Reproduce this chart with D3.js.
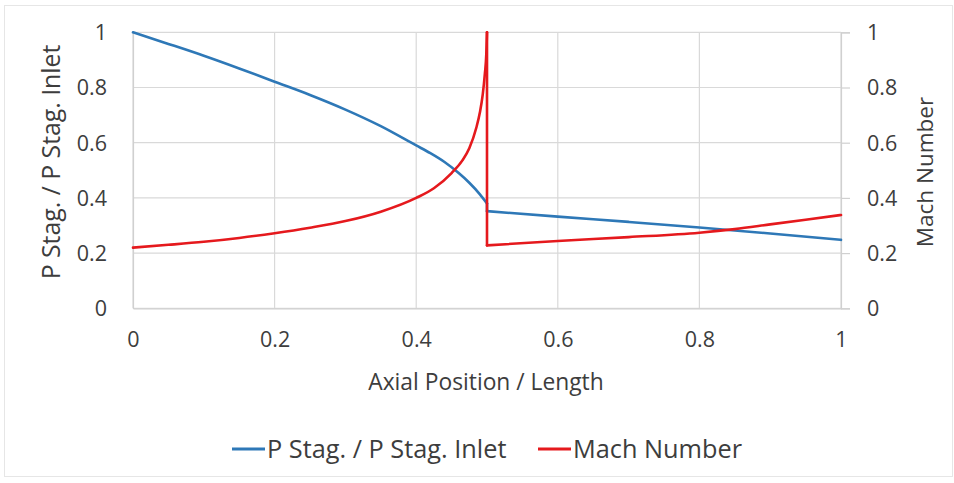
<!DOCTYPE html>
<html>
<head>
<meta charset="utf-8">
<script src="https://cdn.jsdelivr.net/npm/d3@7"></script>
<style>
  html, body { margin: 0; padding: 0; background: #fff; }
  svg { display: block; }
  text { font-family: "Open Sans", sans-serif; fill: #3d3d3d; }
</style>
</head>
<body>
<svg id="chart" width="954" height="483"></svg>
<script>
// ---- data ----
const xTicks = [0, 0.2, 0.4, 0.6, 0.8, 1];
const yTicks = [0, 0.2, 0.4, 0.6, 0.8, 1];

// upstream of the shock (x <= 0.5) and downstream (x >= 0.5)
const pressureXPre   = [0, 0.05, 0.1, 0.15, 0.2, 0.25, 0.3, 0.35, 0.4, 0.42, 0.44, 0.46, 0.475, 0.49, 0.5];
const pressureValPre = [1, 0.958, 0.915, 0.869, 0.821, 0.773, 0.72, 0.66, 0.59, 0.562, 0.53, 0.49, 0.455, 0.413, 0.38];
const pressureXPost   = [0.5, 0.6, 0.7, 0.8, 0.9, 1];
const pressureValPost = [0.352, 0.332, 0.313, 0.293, 0.271, 0.248];

const machXPre   = [0, 0.05, 0.1, 0.15, 0.2, 0.25, 0.3, 0.35, 0.4, 0.425, 0.45, 0.465, 0.475, 0.485, 0.49, 0.494, 0.497, 0.499, 0.5];
const machValPre = [0.22, 0.23, 0.241, 0.255, 0.272, 0.292, 0.316, 0.35, 0.4, 0.435, 0.49, 0.535, 0.58, 0.655, 0.71, 0.775, 0.85, 0.92, 1];
const machXPost   = [0.5, 0.6, 0.7, 0.8, 0.85, 0.9, 0.95, 1];
const machValPost = [0.228, 0.244, 0.258, 0.274, 0.287, 0.304, 0.321, 0.338];

const seriesNames = ["P Stag. / P Stag. Inlet", "Mach Number"];
const seriesColors = ["#2e78b7", "#e5191d"];

// ---- layout ----
const svg = d3.select("#chart");
const pLeft = 133, pRight = 841, pTop = 32.3, pBottom = 308.3;
const inkColor = "#3d3d3d";

svg.append("rect").attr("x", 4.5).attr("y", 5.5).attr("width", 948).attr("height", 471)
  .attr("fill", "#fff").attr("stroke", "#e6e6e6").attr("stroke-width", 1);

const x = d3.scaleLinear().domain([0, 1]).range([pLeft, pRight]);
const yL = d3.scaleLinear().domain([0, 1]).range([pBottom, pTop]);
const yR = d3.scaleLinear().domain([0, 1]).range([pBottom, pTop]);

const grid = svg.append("g");
grid.selectAll(".hg").data(yTicks).join("line")
  .attr("x1", pLeft).attr("x2", pRight)
  .attr("y1", d => yL(d)).attr("y2", d => yL(d))
  .attr("stroke", "#d9d9d9").attr("stroke-width", 1.2);
grid.selectAll(".vg").data(xTicks).join("line")
  .attr("x1", d => x(d)).attr("x2", d => x(d))
  .attr("y1", pTop).attr("y2", pBottom)
  .attr("stroke", "#d9d9d9").attr("stroke-width", 1.2);

const tickFont = "21.5px";

// left axis
const axL = svg.append("g").attr("transform", `translate(${pLeft},0)`)
  .call(d3.axisLeft(yL).tickValues(yTicks).tickSize(0).tickPadding(26).tickFormat(d3.format("~g")));
axL.select(".domain").attr("stroke", "#d0d0d0").attr("stroke-width", 1.2);
axL.selectAll("text").style("font-size", tickFont).style("font-family", "'Open Sans', sans-serif")
  .attr("fill", inkColor).attr("dy", "0.34em");

// right axis
const axR = svg.append("g").attr("transform", `translate(${pRight},0)`)
  .call(d3.axisRight(yR).tickValues(yTicks).tickSize(9).tickPadding(17).tickFormat(d3.format("~g")));
axR.select(".domain").attr("stroke", "#d0d0d0").attr("stroke-width", 1.2);
axR.selectAll("line").attr("stroke", "#d0d0d0").attr("stroke-width", 1.2);
axR.selectAll("text").style("font-size", tickFont).style("font-family", "'Open Sans', sans-serif")
  .attr("fill", inkColor).attr("dy", "0.34em").attr("x", 26);

// bottom axis
const axB = svg.append("g").attr("transform", `translate(0,${pBottom})`)
  .call(d3.axisBottom(x).tickValues(xTicks).tickSize(0).tickPadding(23).tickFormat(d3.format("~g")));
axB.select(".domain").attr("stroke", "#d0d0d0").attr("stroke-width", 1.2);
axB.selectAll("text").style("font-size", tickFont).style("font-family", "'Open Sans', sans-serif")
  .attr("fill", inkColor);

// axis titles
svg.append("text").attr("x", 486).attr("y", 390)
  .attr("text-anchor", "middle").style("font-size", "22.8px").text("Axial Position / Length");
svg.append("text").attr("transform", `translate(60,162) rotate(-90)`)
  .attr("text-anchor", "middle").style("font-size", "24.8px").text("P Stag. / P Stag. Inlet");
svg.append("text").attr("transform", `translate(933,172) rotate(-90)`)
  .attr("text-anchor", "middle").style("font-size", "22.5px").text("Mach Number");

// lines
const zip = (xs, vs) => xs.map((d, i) => [d, vs[i]]);
const pressurePre = zip(pressureXPre, pressureValPre);
const pressurePost = zip(pressureXPost, pressureValPost);
const machPre = zip(machXPre, machValPre);
const machPost = zip(machXPost, machValPost);

const smoothL = d3.line().x(d => x(d[0])).y(d => yL(d[1])).curve(d3.curveMonotoneX);
const smoothR = d3.line().x(d => x(d[0])).y(d => yR(d[1])).curve(d3.curveMonotoneX);
const straightL = d3.line().x(d => x(d[0])).y(d => yL(d[1]));
const straightR = d3.line().x(d => x(d[0])).y(d => yR(d[1]));

function drawSeries(pre, post, smooth, straight, color) {
  const g = svg.append("g").attr("fill", "none").attr("stroke", color)
    .attr("stroke-width", 2.6).attr("stroke-linejoin", "round").attr("stroke-linecap", "round");
  g.append("path").datum(pre).attr("d", smooth);
  g.append("path").datum([pre[pre.length - 1], post[0]]).attr("d", straight);
  g.append("path").datum(post).attr("d", smooth);
}
drawSeries(pressurePre, pressurePost, smoothL, straightL, seriesColors[0]);
drawSeries(machPre, machPost, smoothR, straightR, seriesColors[1]);

// legend
const legendItems = [
  { name: seriesNames[0], color: seriesColors[0], x: 232 },
  { name: seriesNames[1], color: seriesColors[1], x: 538 }
];
const lg = svg.append("g").selectAll("g").data(legendItems).join("g")
  .attr("transform", d => `translate(${d.x},449)`);
lg.append("line").attr("x1", 0).attr("x2", 33).attr("y1", 0).attr("y2", 0)
  .attr("stroke", d => d.color).attr("stroke-width", 2.8);
lg.append("text").attr("x", 35).attr("y", 8.5).style("font-size", "25.3px").text(d => d.name);
</script>
</body>
</html>
